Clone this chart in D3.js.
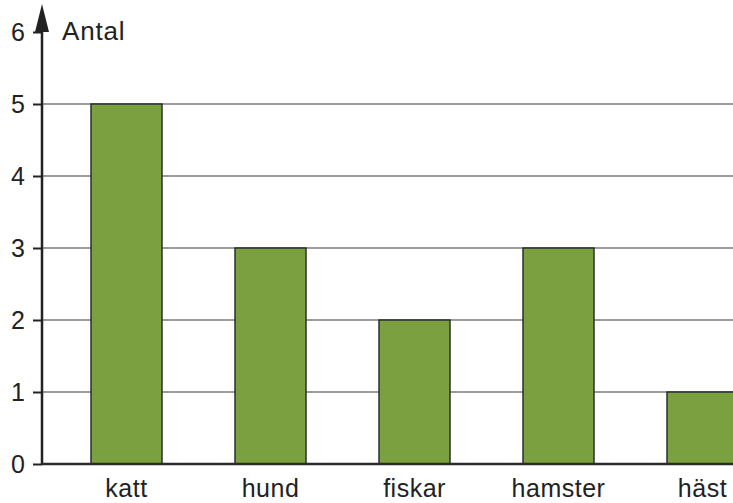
<!DOCTYPE html>
<html><head><meta charset="utf-8">
<script src="https://cdn.jsdelivr.net/npm/d3@7"></script>
<style>body{margin:0;background:#fff}svg{display:block}</style>
</head><body>
<script>
const categories = ["katt", "hund", "fiskar", "hamster", "häst"];
const values = [5, 3, 2, 3, 1];
const yTicks = [0, 1, 2, 3, 4, 5, 6];
const yLabel = "Antal";

const W = 733, H = 503;
const svg = d3.select("body").append("svg").attr("width", W).attr("height", H);
const font = "'Liberation Sans', Arial, Helvetica, sans-serif";
const axisX = 42;

const x = d3.scaleBand().domain(categories).range([54.5, 774.5])
  .paddingInner(73/144).paddingOuter(73/288);
const y = d3.scaleLinear().domain([0, 6]).range([464, 32]);

// grid
svg.append("g").selectAll("line").data(yTicks.filter(d => d > 0 && d < 6)).join("line")
  .attr("x1", axisX).attr("x2", W).attr("y1", d => y(d)).attr("y2", d => y(d))
  .attr("stroke", "#3a3a3a").attr("stroke-width", 1.2);

// bars
svg.append("g").selectAll("rect").data(values).join("rect")
  .attr("x", (d, i) => x(categories[i]))
  .attr("y", d => y(d))
  .attr("width", x.bandwidth())
  .attr("height", d => y(0) - y(d))
  .attr("fill", "#7aa03f").attr("stroke", "#2e2e2e").attr("stroke-width", 1.5);

// y axis
const yAxis = d3.axisLeft(y).tickValues(yTicks).tickFormat(d3.format("d")).tickSize(9).tickPadding(8);
const gy = svg.append("g").attr("transform", `translate(${axisX},0)`).call(yAxis);
gy.select(".domain").remove();
gy.selectAll(".tick line").attr("stroke", "#222").attr("stroke-width", 2);
gy.selectAll(".tick text").attr("font-family", font).attr("font-size", 25).attr("fill", "#222");

// axis line with arrow
svg.append("line").attr("x1", axisX).attr("x2", axisX).attr("y1", y(0) + 1).attr("y2", 20)
  .attr("stroke", "#222").attr("stroke-width", 2.5);
svg.append("path").attr("d", `M${axisX},4 L${axisX-7},32 L${axisX+7},32 Z`).attr("fill", "#222");

// baseline
svg.append("line").attr("x1", axisX).attr("x2", W).attr("y1", y(0)).attr("y2", y(0))
  .attr("stroke", "#2a2a2a").attr("stroke-width", 2.5);

// x labels
svg.append("g").selectAll("text").data(categories).join("text")
  .attr("x", d => x(d) + x.bandwidth() / 2).attr("y", 497)
  .attr("text-anchor", "middle").attr("font-family", font).attr("font-size", 25).attr("fill", "#222")
  .attr("letter-spacing", 0.5)
  .text(d => d);

// y label
svg.append("text").attr("x", 62).attr("y", 40).attr("font-family", font).attr("font-size", 26)
  .attr("letter-spacing", 0.8)
  .attr("fill", "#222").text(yLabel);
</script>
</body></html>
